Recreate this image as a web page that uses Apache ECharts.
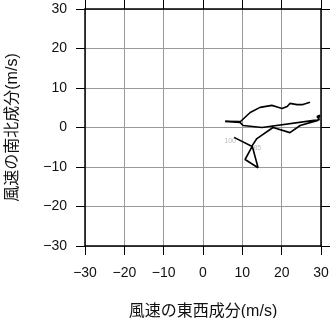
<!DOCTYPE html>
<html><head><meta charset="utf-8">
<script src="https://cdn.jsdelivr.net/npm/echarts@6/dist/echarts.min.js"></script>
<style>html,body{margin:0;padding:0;background:#fff}#c{width:331px;height:318px}</style>
</head><body><div id="c"></div>
<script>
// hodograph trace: [u, v] in m/s
var uValues = [7.9, 12.5, 10.7, 14.0, 12.5, 13.7, 17.8, 22.1, 24.7, 29.2, 29.7, 29.0, 29.6, 29.2, 15.0, 10.2, 9.4, 5.6, 5.8, 9.4, 5.7, 9.4, 12.0, 14.5, 17.5, 19.1, 20.1, 21.4, 22.1, 23.9, 25.4, 27.2];
var vValues = [-2.5, -4.8, -8.1, -10.2, -4.6, -2.8, 0.0, -1.3, 0.5, 1.8, 3.1, 2.8, 2.0, 1.5, 0.0, 0.5, 1.3, 1.5, 1.3, 1.5, 1.6, 1.4, 3.8, 5.1, 5.6, 5.1, 4.8, 5.3, 6.1, 5.8, 5.8, 6.4];
var levelNames = ['100', '85'];
var levelU = [6.9, 13.8];
var levelV = [-3.5, -5.1];
var axisTicks = [-30, -20, -10, 0, 10, 20, 30];

var trace = uValues.map(function (u, i) { return [u, vValues[i]]; });
var levels = levelNames.map(function (n, i) { return { name: n, value: [levelU[i], levelV[i]] }; });
var fmt = function (v) { return String(v).replace('-', '\u2212'); };
var tickFont = { fontSize: 14, color: '#111', fontFamily: 'Liberation Sans, Arial, sans-serif' };
var nameFont = { fontSize: 16, color: '#111', fontFamily: 'Liberation Sans, Noto Sans CJK JP, sans-serif' };
function axisBase(extra) {
  var a = {
    type: 'value', min: axisTicks[0], max: axisTicks[axisTicks.length - 1], interval: 10,
    axisLine: { show: true, onZero: false, lineStyle: { color: '#000', width: 1.5 } },
    axisTick: { show: true, inside: false, length: 9, lineStyle: { color: '#000', width: 1 } },
    splitLine: { show: false }
  };
  for (var k in extra) a[k] = extra[k];
  return a;
}
var chart = echarts.init(document.getElementById('c'), null, { renderer: 'canvas' });
chart.setOption({
  animation: false,
  grid: { left: 85, right: 10, top: 9, bottom: 72, containLabel: false, outerBoundsMode: 'none' },
  xAxis: [
    axisBase({ position: 'bottom', name: '風速の東西成分(m/s)', nameLocation: 'middle', nameGap: 58, nameTextStyle: nameFont,
      axisLabel: Object.assign({ margin: 20, formatter: fmt }, tickFont),
      splitLine: { show: true, lineStyle: { color: '#999', width: 1 } } }),
    axisBase({ position: 'top', axisLabel: { show: false } })
  ],
  yAxis: [
    axisBase({ position: 'left', name: '風速の南北成分(m/s)', nameLocation: 'middle', nameGap: 64, nameTextStyle: nameFont,
      axisLabel: Object.assign({ margin: 18, formatter: fmt }, tickFont),
      splitLine: { show: true, lineStyle: { color: '#999', width: 1 } } }),
    axisBase({ position: 'right', axisLabel: { show: false } })
  ],
  series: [
    { type: 'line', data: trace, showSymbol: false, symbol: 'none', lineStyle: { color: '#000', width: 1.6 }, z: 3 },
    { type: 'scatter', data: levels, symbolSize: 0, z: 2,
      label: { show: true, position: 'inside', formatter: '{b}', fontSize: 7, color: '#aaa', fontFamily: 'Liberation Sans, sans-serif' } }
  ]
});
</script></body></html>
